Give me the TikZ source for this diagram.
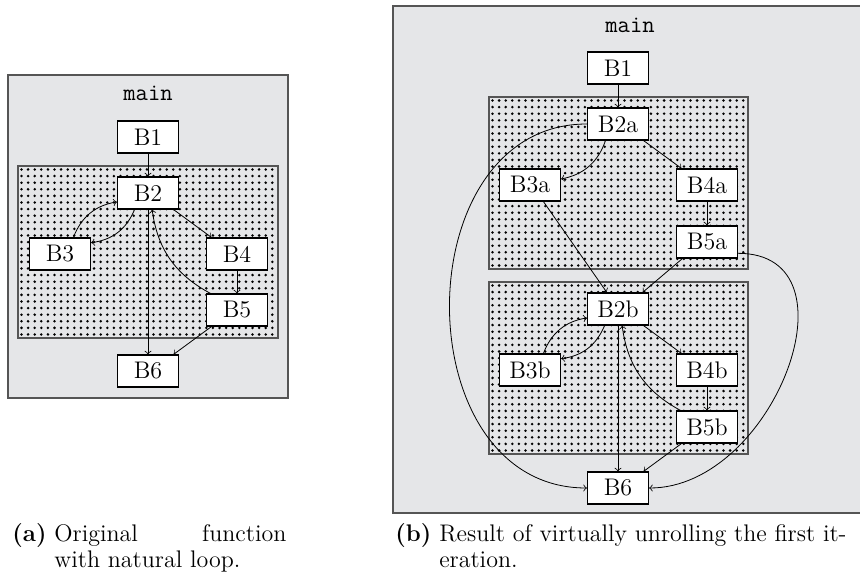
\documentclass[tikz,border=0pt]{standalone}
\usepackage{tikz}
\definecolor{boxGray}{RGB}{229,230,232}
\definecolor{frameGray}{RGB}{85,85,85}
\tikzstyle{functionStyle} = [draw=frameGray, fill=boxGray, semithick]
\tikzstyle{loopStyle} = [draw=frameGray, semithick, fill=boxGray]
\tikzstyle{dotStyle} = [fill=black]
\tikzstyle{blockStyle} = [draw, fill=white, semithick, minimum width=30.5pt, minimum height=16pt, inner sep=0pt, font=\fontsize{12}{14}\selectfont]
\tikzstyle{titleStyle} = [font=\fontsize{12}{14}\selectfont\ttfamily]
\tikzstyle{captionStyle} = [anchor=base west, inner sep=0pt, font=\fontsize{12}{13}\selectfont]
\tikzstyle{edgeStyle} = [->]
\newcommand{\dotStep}{6.6}
\newcommand{\loopRegion}[4]{
  \filldraw [loopStyle] (#1,#2) rectangle (#3,#4);
  \pgfmathsetmacro{\dotStartX}{#1 + 3.5}
  \pgfmathsetmacro{\dotNextX}{#1 + 3.5 + \dotStep}
  \pgfmathsetmacro{\dotEndX}{#3 - 2}
  \pgfmathsetmacro{\dotStartY}{#2 + 3.5}
  \pgfmathsetmacro{\dotNextY}{#2 + 3.5 + \dotStep}
  \pgfmathsetmacro{\dotEndY}{#4 - 2}
  \foreach \dotX in {\dotStartX,\dotNextX,...,\dotEndX} {
    \foreach \dotY in {\dotStartY,\dotNextY,...,\dotEndY} {
      \fill [dotStyle] (\dotX,\dotY) circle (0.7pt);
    }
  }
}
\newcommand{\loopEdges}[5]{
  \draw [edgeStyle] (#2.51) to [bend left=30] (#1.196);
  \draw [edgeStyle] (#1.231) to [bend left=30] (#2.20);
  \draw [edgeStyle] (#1.327) -- (#3.147);
  \draw [edgeStyle] (#3) -- (#4);
  \draw [edgeStyle] (#4.148) to [bend left=27] (#1.284);
  \draw [edgeStyle] (#1) -- (#5);
  \draw [edgeStyle] (#4.213) -- (#5.33);
}

\begin{document}
\begin{tikzpicture}[x=0.5pt, y=-0.5pt]
    \useasboundingbox (0,0) rectangle (860,581);
    % (a) original function
    \filldraw [functionStyle] (8,75) rectangle (288,398);
    \loopRegion{18}{166}{278}{338}
    \node [titleStyle] (mainA) at (148,93) {main};
    \node [blockStyle] (lB1) at (148,137) {B1};
    \node [blockStyle] (lB2) at (148,193) {B2};
    \node [blockStyle] (lB3) at (60,254) {B3};
    \node [blockStyle] (lB4) at (237,254) {B4};
    \node [blockStyle] (lB5) at (237,310) {B5};
    \node [blockStyle] (lB6) at (148,371) {B6};
    \draw [edgeStyle] (lB1) -- (lB2);
    \loopEdges{lB2}{lB3}{lB4}{lB5}{lB6}
    % (b) first iteration unrolled
    \filldraw [functionStyle] (393,6) rectangle (867,513);
    \loopRegion{489}{97}{748}{269}
    \loopRegion{489}{282}{748}{454}
    \node [titleStyle] (mainB) at (630,25) {main};
    \node [blockStyle] (rB1) at (618,68) {B1};
    \node [blockStyle] (rB2a) at (618,124) {B2a};
    \node [blockStyle] (rB3a) at (530,185) {B3a};
    \node [blockStyle] (rB4a) at (707,185) {B4a};
    \node [blockStyle] (rB5a) at (707,242) {B5a};
    \node [blockStyle] (rB2b) at (618,309) {B2b};
    \node [blockStyle] (rB3b) at (530,370) {B3b};
    \node [blockStyle] (rB4b) at (707,370) {B4b};
    \node [blockStyle] (rB5b) at (707,427) {B5b};
    \node [blockStyle] (rB6) at (618,488) {B6};
    \draw [edgeStyle] (rB1) -- (rB2a);
    \draw [edgeStyle] (rB2a.233) to [bend left=30] (rB3a.11);
    \draw [edgeStyle] (rB2a.327) -- (rB4a.147);
    \draw [edgeStyle] (rB4a) -- (rB5a);
    \draw [edgeStyle] (rB3a.309) -- (rB2b.124);
    \draw [edgeStyle] (rB5a.214) -- (rB2b.34);
    \draw [edgeStyle] (rB2a.west) to [out=180, in=180, looseness=1.29] (rB6.west);
    \draw [edgeStyle] (rB5a.340) to [out=0, in=0, looseness=1.27] (rB6.east);
    \loopEdges{rB2b}{rB3b}{rB4b}{rB5b}{rB6}
    % captions
    \node [captionStyle] (capA) at (12,541) {\textbf{(a)} \parbox[t]{116pt}{Original\hfill function\\with natural loop.}};
    \node [captionStyle] (capB) at (395,541) {\textbf{(b)} \parbox[t]{225pt}{Result of virtually unrolling the first it-\\eration.}};
\end{tikzpicture}
\end{document}
